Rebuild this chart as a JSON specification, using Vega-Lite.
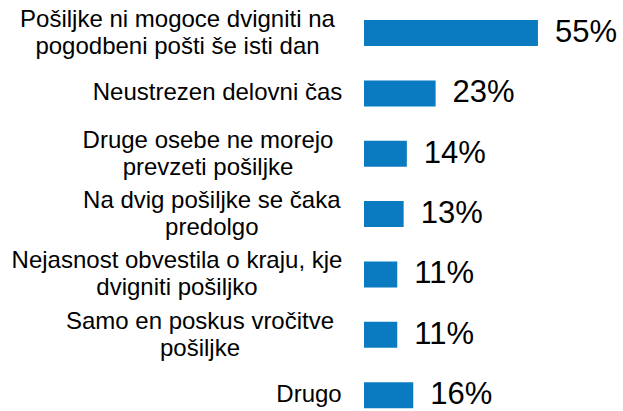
{
  "$schema": "https://vega.github.io/schema/vega-lite/v6.json",
  "width": 259,
  "height": 411,
  "autosize": {"type": "none"},
  "padding": {"left": 364, "top": 0, "right": 0, "bottom": 0},
  "background": "white",
  "config": {"view": {"stroke": null}, "font": "Liberation Sans"},
  "data": {
    "values": [
      {"label": "Pošiljke ni mogoce dvigniti na\npogodbeni pošti še isti dan", "value": 0.55},
      {"label": "Neustrezen delovni čas", "value": 0.23},
      {"label": "Druge osebe ne morejo\nprevzeti pošiljke", "value": 0.14},
      {"label": "Na dvig pošiljke se čaka\npredolgo", "value": 0.13},
      {"label": "Nejasnost obvestila o kraju, kje\ndvigniti pošiljko", "value": 0.11},
      {"label": "Samo en poskus vročitve\npošiljke", "value": 0.11},
      {"label": "Drugo", "value": 0.16}
    ]
  },
  "encoding": {
    "y": {
      "field": "label",
      "type": "nominal",
      "sort": null,
      "scale": {"paddingInner": 0.569, "paddingOuter": 0.19, "align": 0.875},
      "axis": {
        "title": null,
        "domain": false,
        "ticks": false,
        "tickSize": 0,
        "grid": false,
        "labelExpr": "split(datum.label, '\\n')",
        "labelFont": "Liberation Sans",
        "labelFontSize": 24,
        "labelLineHeight": 27,
        "labelColor": "#000000",
        "labelLimit": 400,
        "labelAlign": "center",
        "labelBaseline": "middle",
        "labelOffset": {
          "condition": {"test": "indexof(datum.value, '\\n') >= 0", "value": -13},
          "value": 0
        },
        "labelPadding": {
          "condition": [
            {"test": "indexof(datum.value, 'Pošiljke') === 0", "value": 187},
            {"test": "indexof(datum.value, 'Neustrezen') === 0", "value": 147},
            {"test": "indexof(datum.value, 'Druge') === 0", "value": 156.5},
            {"test": "indexof(datum.value, 'Na dvig') === 0", "value": 152.7},
            {"test": "indexof(datum.value, 'Nejasnost') === 0", "value": 187.5},
            {"test": "indexof(datum.value, 'Samo') === 0", "value": 164.5}
          ],
          "value": 55.5
        }
      }
    }
  },
  "layer": [
    {
      "mark": {"type": "bar", "color": "#0b7bc1", "clip": true},
      "encoding": {
        "x": {
          "field": "value",
          "type": "quantitative",
          "scale": {"domain": [0.006, 0.816], "nice": false, "zero": false},
          "axis": null
        }
      }
    },
    {
      "mark": {"type": "text", "align": "left", "baseline": "middle", "dx": 17, "fontSize": 31, "font": "Liberation Sans", "color": "#000000"},
      "encoding": {
        "x": {"field": "value", "type": "quantitative"},
        "text": {"field": "value", "type": "quantitative", "format": ".0%"}
      }
    }
  ]
}
